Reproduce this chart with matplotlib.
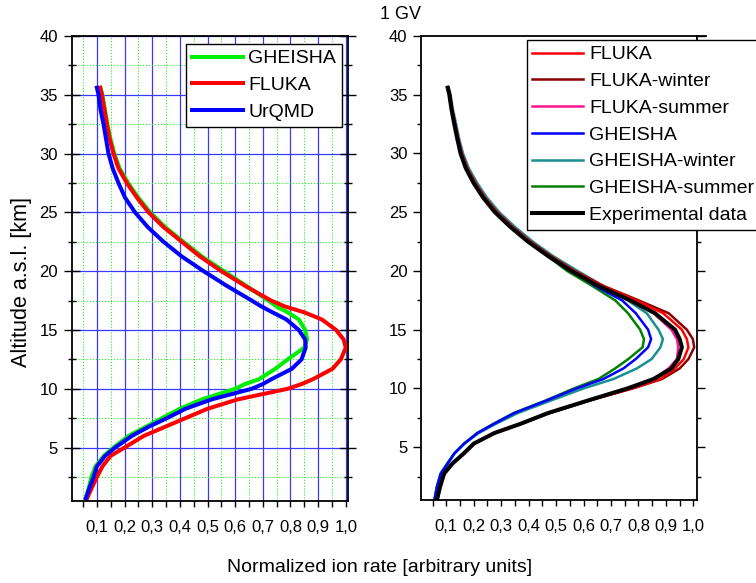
import matplotlib
matplotlib.use("Agg")
import matplotlib.pyplot as plt
from matplotlib.ticker import MultipleLocator, FuncFormatter

plt.rcParams['font.family'] = ['Liberation Sans', 'DejaVu Sans']

# ---------------- data (left panel) ----------------
alt_left = [35.6, 35, 33.75, 32.5, 31.25, 30, 28.75, 27.5, 26.25, 25, 23.75, 22.5, 21.25, 20,
            18.75, 17.5, 17.0, 16.5, 15.9, 15, 14.2, 13.5, 12.5, 11.7, 10.8, 10.4, 10, 9.1,
            8.3, 7.5, 6.8, 6.0, 5.0, 4.3, 3.4, 2.5, 1.5, 0.7]
gheisha_left = [0.113, 0.120, 0.129, 0.138, 0.149, 0.163, 0.182, 0.213, 0.250, 0.293, 0.347,
                0.413, 0.480, 0.560, 0.640, 0.720, 0.750, 0.790, 0.830, 0.853, 0.860, 0.850,
                0.790, 0.745, 0.685, 0.635, 0.600, 0.480, 0.400, 0.335, 0.280, 0.215, 0.160,
                0.125, 0.095, 0.080, 0.070, 0.060]
fluka_left = [0.112, 0.118, 0.127, 0.136, 0.146, 0.160, 0.178, 0.208, 0.245, 0.287, 0.341,
              0.407, 0.473, 0.550, 0.636, 0.730, 0.780, 0.850, 0.913, 0.965, 0.992, 1.000,
              0.982, 0.952, 0.880, 0.840, 0.790, 0.610, 0.500, 0.420, 0.350, 0.270, 0.200,
              0.150, 0.120, 0.100, 0.080, 0.065]
urqmd_left = [0.100, 0.106, 0.113, 0.124, 0.133, 0.142, 0.157, 0.178, 0.202, 0.238, 0.284,
              0.341, 0.407, 0.486, 0.570, 0.660, 0.695, 0.735, 0.785, 0.830, 0.853, 0.855,
              0.840, 0.805, 0.730, 0.700, 0.660, 0.515, 0.420, 0.353, 0.290, 0.227, 0.166,
              0.130, 0.100, 0.088, 0.072, 0.060]
left_labels = ["GHEISHA", "FLUKA", "UrQMD"]

# ---------------- data (right panel) ----------------
alt_right = [35.6, 35, 33.75, 32.5, 31.25, 30, 28.75, 27.5, 26.25, 25, 23.75, 22.5, 21.25, 20,
             18.75, 17.5, 16.4, 15, 14.2, 13.5, 12.5, 11.7, 10.8, 10, 9.0, 7.9, 7.0, 6.2, 5.3,
             4.45, 3.6, 2.75, 1.6, 0.6]
fluka_r = [0.107, 0.113, 0.121, 0.132, 0.143, 0.156, 0.176, 0.205, 0.240, 0.284, 0.340, 0.405,
           0.480, 0.565, 0.665, 0.790, 0.890, 0.958, 0.976, 0.982, 0.965, 0.933, 0.880, 0.775,
           0.625, 0.475, 0.375, 0.278, 0.203, 0.165, 0.124, 0.094, 0.078, 0.068]
fluka_winter = [0.107, 0.113, 0.121, 0.132, 0.143, 0.156, 0.176, 0.205, 0.240, 0.285, 0.341,
                0.406, 0.482, 0.568, 0.670, 0.800, 0.910, 0.976, 0.998, 1.003, 0.982, 0.950,
                0.886, 0.780, 0.625, 0.475, 0.374, 0.277, 0.202, 0.164, 0.123, 0.093, 0.077,
                0.067]
fluka_summer = [0.107, 0.113, 0.121, 0.132, 0.143, 0.156, 0.176, 0.205, 0.240, 0.284, 0.340,
                0.404, 0.479, 0.563, 0.660, 0.775, 0.855, 0.920, 0.940, 0.945, 0.940, 0.910,
                0.855, 0.765, 0.620, 0.470, 0.372, 0.276, 0.201, 0.164, 0.123, 0.093, 0.077,
                0.067]
gheisha_r = [0.107, 0.113, 0.121, 0.132, 0.143, 0.156, 0.176, 0.205, 0.240, 0.284, 0.340,
             0.405, 0.478, 0.560, 0.640, 0.740, 0.790, 0.835, 0.846, 0.835, 0.790, 0.745,
             0.672, 0.575, 0.469, 0.348, 0.275, 0.214, 0.165, 0.129, 0.105, 0.080, 0.066,
             0.058]
gheisha_winter = [0.109, 0.116, 0.124, 0.136, 0.147, 0.161, 0.182, 0.212, 0.248, 0.293, 0.350,
                  0.415, 0.490, 0.578, 0.670, 0.760, 0.830, 0.873, 0.889, 0.880, 0.848, 0.794,
                  0.709, 0.600, 0.485, 0.360, 0.282, 0.218, 0.167, 0.130, 0.106, 0.081, 0.066,
                  0.058]
gheisha_summer = [0.106, 0.112, 0.120, 0.130, 0.141, 0.154, 0.173, 0.201, 0.236, 0.279, 0.334,
                  0.398, 0.470, 0.540, 0.630, 0.715, 0.762, 0.806, 0.820, 0.815, 0.763, 0.715,
                  0.654, 0.565, 0.465, 0.345, 0.273, 0.212, 0.164, 0.128, 0.103, 0.079, 0.065,
                  0.057]
experimental = [0.105, 0.111, 0.119, 0.129, 0.140, 0.152, 0.171, 0.199, 0.234, 0.277, 0.333,
                0.397, 0.472, 0.555, 0.652, 0.770, 0.860, 0.933, 0.950, 0.958, 0.945, 0.920,
                0.855, 0.760, 0.620, 0.470, 0.372, 0.275, 0.200, 0.163, 0.122, 0.092, 0.077,
                0.067]
right_labels = ["FLUKA", "FLUKA-winter", "FLUKA-summer", "GHEISHA", "GHEISHA-winter",
                "GHEISHA-summer", "Experimental data"]

x_ticks = [0.1, 0.2, 0.3, 0.4, 0.5, 0.6, 0.7, 0.8, 0.9, 1.0]
y_ticks = [5, 10, 15, 20, 25, 30, 35, 40]

W, H = 756, 583
fig = plt.figure(figsize=(W / 100, H / 100), dpi=100)

def px_axes(x0, x1, y0, y1):
    return fig.add_axes([x0 / W, 1 - y1 / H, (x1 - x0) / W, (y1 - y0) / H])

axL = px_axes(72, 348, 36, 500.5)
axR = px_axes(421.3, 696.7, 36, 500)

comma = FuncFormatter(lambda v, p: ("%.1f" % v).replace(".", ","))
yfmt = FuncFormatter(lambda v, p: "%d" % round(v))

for ax, xlim, ydir in ((axL, (0.01, 1.008), 'inout'), (axR, (0.009, 1.012), 'out')):
    ax.set_xlim(*xlim)
    ax.set_ylim(0.5, 40)
    ax.set_xticks(x_ticks)
    ax.xaxis.set_minor_locator(MultipleLocator(0.05))
    ax.set_yticks(y_ticks)
    ax.yaxis.set_minor_locator(MultipleLocator(2.5))
    ax.xaxis.set_major_formatter(comma)
    ax.yaxis.set_major_formatter(yfmt)
    ax.tick_params(axis='x', which='major', direction='out', length=4, width=1,
                   labelsize=12, pad=10, top=False)
    ax.tick_params(axis='x', which='minor', direction='out', length=4, width=1, top=False)
    mlen = 12 if ydir == 'inout' else 6
    ax.tick_params(axis='y', which='major', direction=ydir, length=mlen, width=1,
                   labelsize=12, left=True, right=True, pad=4)
    ax.tick_params(axis='y', which='minor', direction=ydir, length=mlen / 2, width=1,
                   left=True, right=True)
    for s in ax.spines.values():
        s.set_linewidth(1.3)

# Grid on left panel
axL.set_axisbelow(True)
axL.grid(True, which='major', color='#3a3aff', linewidth=0.9, linestyle='-')
axL.grid(True, which='minor', color='#22ee22', linewidth=0.8, linestyle=':')

# Left panel curves
axL.plot(gheisha_left, alt_left, color='#00ee00', lw=2.9, label=left_labels[0])
axL.plot(fluka_left, alt_left, color='#ff0000', lw=2.9, label=left_labels[1])
axL.plot(urqmd_left, alt_left, color='#0000ff', lw=2.9, label=left_labels[2])
legL = axL.legend(loc='upper right', bbox_to_anchor=(342 / W, 1 - 44 / H),
                  bbox_transform=fig.transFigure, fontsize=14,
                  frameon=True, fancybox=False, edgecolor='black', framealpha=1,
                  handlelength=2.65, handletextpad=0.25, borderpad=0.3, labelspacing=0.47,
                  borderaxespad=0)
legL.get_frame().set_linewidth(1.0)

# Right panel curves
lines = {}
lines[5] = axR.plot(gheisha_summer, alt_right, color='#008000', lw=1.8)[0]
lines[4] = axR.plot(gheisha_winter, alt_right, color='#1a8f8f', lw=1.8)[0]
lines[3] = axR.plot(gheisha_r, alt_right, color='#0000ff', lw=1.8)[0]
lines[2] = axR.plot(fluka_summer, alt_right, color='#ff1493', lw=1.8)[0]
lines[1] = axR.plot(fluka_winter, alt_right, color='#8b0000', lw=1.8)[0]
lines[0] = axR.plot(fluka_r, alt_right, color='#ff0000', lw=1.8)[0]
lines[6] = axR.plot(experimental, alt_right, color='#000000', lw=2.9)[0]
handles = [lines[i] for i in range(7)]
legR = fig.legend(handles, right_labels, loc='upper left', bbox_to_anchor=(526.5 / W, 1 - 40 / H),
                  fontsize=14, frameon=True, fancybox=False, edgecolor='black', framealpha=1,
                  handlelength=2.63, handletextpad=0.3, borderpad=0.3, labelspacing=0.47,
                  borderaxespad=0)
legR.get_frame().set_linewidth(1.0)

# extended top line of right panel
axR.plot([1.012, 1.045], [40, 40], color='black', lw=1.3, clip_on=False)

fig.text(400.8 / W, 1 - 14.5 / H, "1 GV", ha='center', va='center', fontsize=13)
fig.text(380 / W, 1 - 568 / H, "Normalized ion rate [arbitrary units]", ha='center',
         va='center', fontsize=14)
fig.text(22 / W, 1 - 282 / H, "Altitude a.s.l. [km]", ha='center', va='center',
         rotation=90, fontsize=15.5)

fig.savefig("out.png", dpi=100)
